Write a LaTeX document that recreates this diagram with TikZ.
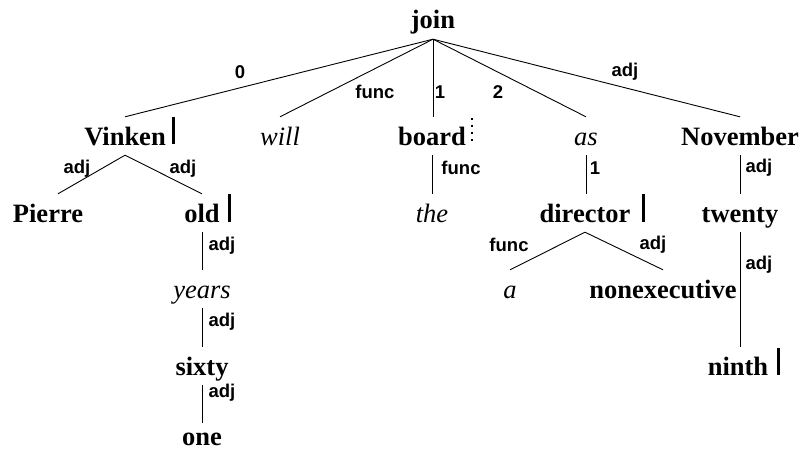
\documentclass[tikz,border=0pt]{standalone}
\usepackage{fontspec}
\setmainfont{Liberation Serif}
\newfontfamily\labelfont{Liberation Sans}
\usetikzlibrary{calc}
\tikzset{
  word/.style={inner sep=0pt, anchor=base, text height=28pt, text depth=10pt,
               font=\fontsize{26.5}{30}\selectfont\bfseries},
  fword/.style={word, font=\fontsize{26.5}{30}\selectfont\itshape},
  lab/.style={inner sep=0pt, font=\labelfont\fontsize{18.5}{20}\selectfont\bfseries},
  edge/.style={line width=0.9pt},
  headbar/.style={line width=3pt},
  dotbar/.style={line width=2.6pt, dash pattern=on 2pt off 5pt},
}
\begin{document}
\begin{tikzpicture}[x=1pt, y=-1pt]
\useasboundingbox (0,0) rectangle (799,452);

% words
\node[word]  (join)     at (433,29)  {join};
\node[word]  (Vinken)   at (125,145) {Vinken};
\node[fword] (will)     at (280,145) {will};
\node[word]  (board)    at (432,145) {board};
\node[fword] (as)       at (586,145) {as};
\node[word]  (November) at (740,145) {November};
\node[word]  (Pierre)   at (48,222)  {Pierre};
\node[word]  (old)      at (202,222) {old};
\node[fword] (the)      at (432,222) {the};
\node[word]  (director) at (585,222) {director};
\node[word]  (twenty)   at (740,222) {twenty};
\node[fword] (years)    at (202,298) {years};
\node[fword] (a)        at (510,298) {a};
\node[word]  (nonexec)  at (663,298) {nonexecutive};
\node[word]  (sixty)    at (202,375) {sixty};
\node[word]  (ninth)    at (738,375) {ninth};
\node[word, text depth=0pt] (one) at (202,445) {one};

% dependencies
\draw[edge] (join.south) -- (Vinken.north);
\draw[edge] (join.south) -- (will.north);
\draw[edge] (join.south) -- (join.south |- board.north);
\draw[edge] (join.south) -- (as.north);
\draw[edge] (join.south) -- (November.north);
\draw[edge] (Vinken.south) -- ($(Pierre.north)+(10,0)$);
\draw[edge] (Vinken.south) -- (old.north);
\draw[edge] (old.south) -- (years.north);
\draw[edge] (years.south) -- (sixty.north);
\draw[edge] (sixty.south) -- ($(one.north)+(0,6)$);
\draw[edge] (board.south) -- (the.north);
\draw[edge] (as.south) -- (as.south |- director.north);
\draw[edge] (director.south) -- (a.north);
\draw[edge] (director.south) -- (nonexec.north);
\draw[edge] (November.south) -- (twenty.north);
\draw[edge] (twenty.south) -- (twenty.south |- ninth.north);

% relation labels
\node[lab] (l0)     at (240,72)  {0};
\node[lab] (lwill)  at (375,92)  {func};
\node[lab] (lboard) at (440,92)  {1};
\node[lab] (las)    at (498,92)  {2};
\node[lab] (lnov)   at (625,72)  {adj};
\node[lab] (lpier)  at (77,169)  {adj};
\node[lab] (lold)   at (183,169) {adj};
\node[lab] (lyears) at (222,246) {adj};
\node[lab] (lsixty) at (222,322) {adj};
\node[lab] (lone)   at (222,393) {adj};
\node[lab] (lthe)   at (461,168) {func};
\node[lab] (ldir)   at (595,168) {1};
\node[lab] (ltw)    at (759,168) {adj};
\node[lab] (la)     at (509,245) {func};
\node[lab] (lnon)   at (653,245) {adj};
\node[lab] (lnin)   at (759,265) {adj};

% head markers
\draw[headbar] ($(Vinken.base east)+(8,-1)$) -- ++(0,-27);
\draw[headbar] ($(old.base east)+(10,0)$) -- ++(0,-28);
\draw[headbar] ($(director.base east)+(13,0)$) -- ++(0,-28);
\draw[headbar] ($(ninth.base east)+(10,0)$) -- ++(0,-27);
\draw[dotbar]  ($(board.base east)+(6,-27)$) -- ++(0,25);
\end{tikzpicture}
\end{document}
